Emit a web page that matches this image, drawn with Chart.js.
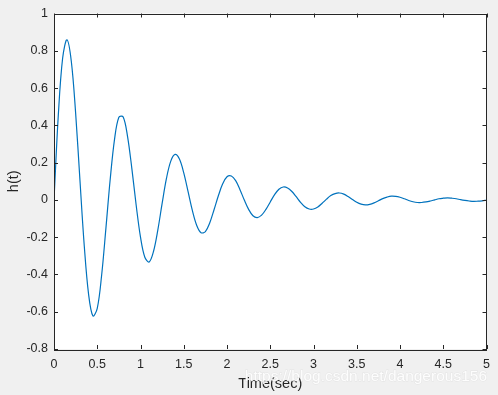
<!DOCTYPE html>
<html>
<head>
<meta charset="utf-8">
<script src="https://cdn.jsdelivr.net/npm/chart.js@4/dist/chart.umd.min.js"></script>
<style>
    html, body { margin: 0; padding: 0; background: #f0f0f0; }
    #wrap { width: 498px; height: 395px; position: relative; }
</style>
</head>
<body>
<div id="wrap"><canvas id="grafico_h"></canvas></div>
<script>
// tiempo (s) y respuesta h(t)
let tiempo = [
    0, 0.05, 0.1, 0.15, 0.2, 0.25, 0.3, 0.35, 0.4, 0.45,
    0.5, 0.55, 0.6, 0.65, 0.7, 0.75, 0.8, 0.85, 0.9, 0.95,
    1, 1.05, 1.1, 1.15, 1.2, 1.25, 1.3, 1.35, 1.4, 1.45,
    1.5, 1.55, 1.6, 1.65, 1.7, 1.75, 1.8, 1.85, 1.9, 1.95,
    2, 2.05, 2.1, 2.15, 2.2, 2.25, 2.3, 2.35, 2.4, 2.45,
    2.5, 2.55, 2.6, 2.65, 2.7, 2.75, 2.8, 2.85, 2.9, 2.95,
    3, 3.05, 3.1, 3.15, 3.2, 3.25, 3.3, 3.35, 3.4, 3.45,
    3.5, 3.55, 3.6, 3.65, 3.7, 3.75, 3.8, 3.85, 3.9, 3.95,
    4, 4.05, 4.1, 4.15, 4.2, 4.25, 4.3, 4.35, 4.4, 4.45,
    4.5, 4.55, 4.6, 4.65, 4.7, 4.75, 4.8, 4.85, 4.9, 4.95,
    5
]
let respuesta = [
    0, 0.456, 0.761, 0.859, 0.744, 0.466, 0.105, -0.247, -0.507, -0.623,
    -0.582, -0.407, -0.153, 0.112, 0.326, 0.443, 0.445, 0.341, 0.168, -0.029,
    -0.200, -0.308, -0.333, -0.277, -0.162, -0.019, 0.115, 0.208, 0.244, 0.219,
    0.145, 0.044, -0.058, -0.137, -0.176, -0.170, -0.124, -0.053, 0.022, 0.086,
    0.124, 0.128, 0.103, 0.055, -0.001, -0.051, -0.085, -0.095, -0.082, -0.051,
    -0.011, 0.028, 0.057, 0.069, 0.064, 0.045, 0.017, -0.013, -0.037, -0.049,
    -0.049, -0.038, -0.018, 0.004, 0.023, 0.034, 0.037, 0.031, 0.018, 0.002,
    -0.013, -0.023, -0.027, -0.024, -0.016, -0.005, 0.007, 0.015, 0.020, 0.019,
    0.014, 0.006, -0.003, -0.010, -0.014, -0.014, -0.011, -0.006, 0.000, 0.006,
    0.009, 0.011, 0.009, 0.006, 0.001, -0.003, -0.006, -0.008, -0.007, -0.005,
    -0.002
]

let eje_x = { min: 0, max: 5, paso: 0.5, titulo: 'Time(sec)' }
let eje_y = { min: -0.8, max: 1, paso: 0.2, titulo: 'h(t)' }
let marca_agua = 'https://blog.csdn.net/dangerous156'

let color_linea = '#0072BD'
let color_eje = '#262626'
let fuente = '"Liberation Sans", Arial, sans-serif'


// marcas hacia adentro en los cuatro lados + caja + marca de agua
let caja_matlab = {
    id: 'caja_matlab',
    beforeDraw(chart) {
        let a = chart.chartArea
        let ctx = chart.ctx
        ctx.save()
        ctx.fillStyle = '#ffffff'
        ctx.fillRect(a.left, a.top, a.right - a.left, a.bottom - a.top)
        ctx.restore()
    },
    afterDraw(chart) {
        let a = chart.chartArea
        let ctx = chart.ctx
        let largo = 4
        ctx.save()
        ctx.strokeStyle = color_eje
        ctx.lineWidth = 1
        ctx.beginPath()
        chart.scales.x.ticks.forEach(t => {
            let px = Math.round(chart.scales.x.getPixelForValue(t.value)) + 0.5
            ctx.moveTo(px, a.bottom); ctx.lineTo(px, a.bottom - largo)
            ctx.moveTo(px, a.top); ctx.lineTo(px, a.top + largo)
        })
        chart.scales.y.ticks.forEach(t => {
            let py = Math.round(chart.scales.y.getPixelForValue(t.value)) + 0.5
            ctx.moveTo(a.left, py); ctx.lineTo(a.left + largo, py)
            ctx.moveTo(a.right, py); ctx.lineTo(a.right - largo, py)
        })
        ctx.stroke()
        ctx.strokeRect(Math.round(a.left) + 0.5, Math.round(a.top) + 0.5,
            Math.round(a.right - a.left) - 1, Math.round(a.bottom - a.top))
        //----------------------------------------
        ctx.font = '15.5px ' + fuente
        ctx.textAlign = 'right'
        ctx.textBaseline = 'middle'
        ctx.lineWidth = 1
        ctx.strokeStyle = 'rgba(215,215,215,0.45)'
        ctx.strokeText(marca_agua, 487, 377)
        ctx.fillStyle = 'rgba(255,255,255,0.9)'
        ctx.fillText(marca_agua, 487, 377)
        ctx.restore()
    }
}


function chart_config(){
    let puntos = tiempo.map((t, i) => ({ x: t, y: respuesta[i] }))
    let configuracion = {
        type: 'line',
        data: {
            datasets: [
                {
                    label: eje_y.titulo,
                    data: puntos,
                    borderColor: color_linea,
                    borderWidth: 1.2,
                    pointRadius: 0,
                    tension: 0.35,
                    fill: false
                },
            ]
        },
        options: {
            responsive: true,
            maintainAspectRatio: false,
            animation: false,
            layout: { padding: { top: 8, right: 11, left: 0, bottom: 0 } },
            plugins: {
                legend: { display: false },
                tooltip: { enabled: false }
            },
            scales: {
                x: {
                    type: 'linear',
                    min: eje_x.min,
                    max: eje_x.max,
                    afterFit: (s) => { s.height = 46 },
                    grid: { display: false, drawTicks: false },
                    border: { display: false },
                    ticks: {
                        stepSize: eje_x.paso,
                        padding: 8,
                        color: color_eje,
                        maxRotation: 0,
                        font: { family: fuente, size: 12.5 },
                        callback: (v) => String(Math.round(v * 10) / 10)
                    },
                    title: {
                        display: true,
                        text: eje_x.titulo,
                        color: color_eje,
                        padding: { top: 0, bottom: 2 },
                        font: { family: fuente, size: 14.5 }
                    }
                },
                y: {
                    min: eje_y.min,
                    max: eje_y.max,
                    afterFit: (s) => { s.width = 54 },
                    grid: { display: false, drawTicks: false },
                    border: { display: false },
                    ticks: {
                        stepSize: eje_y.paso,
                        padding: 6,
                        color: color_eje,
                        font: { family: fuente, size: 12.5 },
                        callback: (v) => String(Math.round(v * 10) / 10)
                    },
                    title: {
                        display: true,
                        text: eje_y.titulo,
                        color: color_eje,
                        padding: { top: 5, bottom: 0 },
                        font: { family: fuente, size: 14.5 }
                    }
                }
            }
        },
        plugins: [caja_matlab]
    }
    return configuracion
}


function chart_view(){
    let ctx = document.getElementById('grafico_h').getContext('2d')
    let grafico_h = new Chart(ctx, chart_config())
}
chart_view()
</script>
</body>
</html>
